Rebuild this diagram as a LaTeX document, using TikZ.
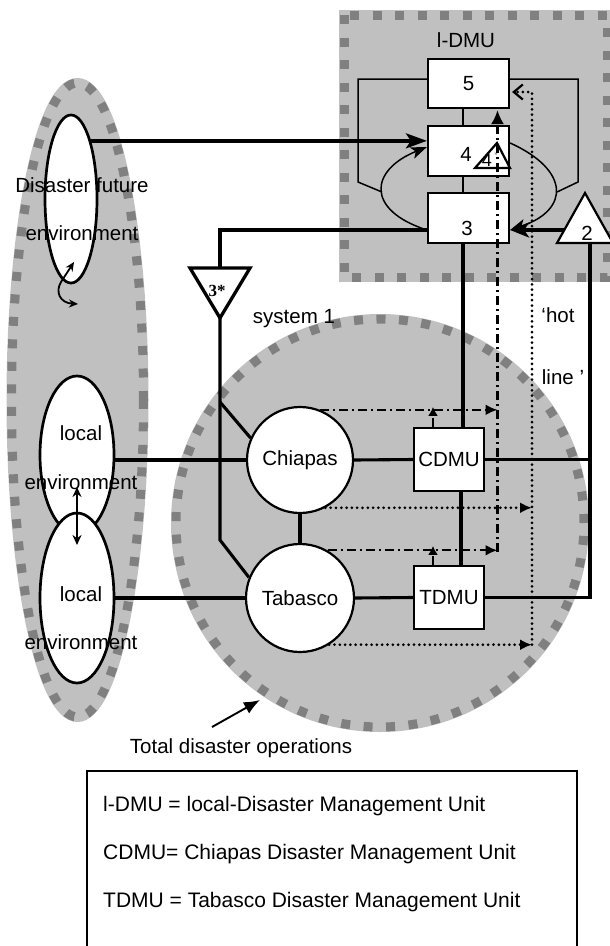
\documentclass[tikz,border=0pt]{standalone}
\usepackage{fontspec}
\setmainfont{Liberation Sans}
\newfontfamily\serifb{Liberation Serif}
\usetikzlibrary{shapes.geometric,arrows.meta,calc}
\definecolor{fillg}{HTML}{C0C0C0}
\definecolor{dashg}{HTML}{808080}
\newcommand\fs{\fontsize{20.5}{24}\selectfont}
\begin{document}
\begin{tikzpicture}[x=1pt,y=-1pt,
 graybg/.style={fill=fillg, draw=fillg, line width=10pt},
 graydash/.style={draw=dashg, line width=9pt, dash pattern=on 9pt off 13.5pt},
 boxn/.style={draw, fill=white, line width=2.2pt, inner sep=0pt, font=\fs},
 circn/.style={circle, draw, fill=white, line width=2.2pt, inner sep=0pt, font=\fs},
 elln/.style={ellipse, draw, fill=white, line width=2.7pt, inner sep=0pt},
 txt/.style={inner sep=0pt, font=\fs},
 thinln/.style={line width=1.5pt},
 medln/.style={line width=3.1pt},
 thickln/.style={line width=3.4pt},
 dashdotln/.style={line width=2.3pt, dash pattern=on 9pt off 4pt on 2pt off 4pt},
 dotln/.style={line width=3pt, line cap=round, dash pattern=on 0pt off 5.3pt},
 tri/.style={draw, fill=white, line width=2.2pt, line join=miter}
]
\useasboundingbox (0,0) rectangle (610,946);

% gray regions
\path[graybg] (77.5,400) ellipse [x radius=66pt, y radius=317pt];
\path[graydash] (77.5,400) ellipse [x radius=66pt, y radius=317pt];
\path[graybg] (380,523) circle [radius=204pt];
\path[graydash] (380,523) circle [radius=204pt];
\path[graybg] (344,15) rectangle (607,277);
\path[graydash] (344,15) rectangle (607,277);

% nodes
\node[boxn, minimum width=81pt, minimum height=49pt] (b5) at (468.5,83.5) {5};
\node[boxn, minimum width=81pt, minimum height=50pt] (b4) at (468.5,151) {};
\node[txt] (b4t) at (466,154) {4};
\node[boxn, minimum width=81pt, minimum height=50pt] (b3) at (468.5,218) {};
\node[txt] (b3t) at (467,228) {3};
\node[boxn, minimum width=70pt, minimum height=63pt] (cdmu) at (449,459.5) {CDMU};
\node[boxn, minimum width=70pt, minimum height=63pt] (tdmu) at (449,597.5) {TDMU};
\node[circn, minimum size=106pt] (chiapas) at (300,460) {Chiapas};
\node[circn, minimum size=108pt] (tabasco) at (300,598) {Tabasco};
\node[elln, minimum width=52pt, minimum height=168pt] (dis) at (71,199) {};
\node[elln, minimum width=74pt, minimum height=158pt] (loc1) at (77,455) {};
\node[elln, minimum width=74pt, minimum height=170pt] (loc2) at (77,598) {};

\node[txt] (dis1) at (82,185) {Disaster future};
\node[txt] (dis2) at (82,233) {environment};
\node[txt] (l1a) at (81,433) {local};
\node[txt] (l1b) at (81,482) {environment};
\node[txt] (l2a) at (81,594) {local};
\node[txt] (l2b) at (81,642) {environment};
\node[txt] (idmu) at (466,40) {l-DMU};
\node[txt] (sys) at (294,319) {system 1};
\node[txt] (hot1) at (558,315) {‘hot};
\node[txt] (hot2) at (563,377) {line ’};
\node[txt] (tdo) at (241,748) {Total disaster operations};

% coordinates
\coordinate (b3L) at ($(b3.west)+(0,12)$);
\coordinate (b3R) at ($(b3.east)+(0,12)$);
\coordinate (b4Lc) at ($(b4.west)+(0,-4)$);
\coordinate (b4R) at ($(b4.east)+(0,-8)$);
\coordinate (b5L) at ($(b5.west)+(0,-4.5)$);
\coordinate (b5R) at ($(b5.east)+(0,-4.5)$);
\coordinate (b5Rd) at ($(b5.east)+(2,8.5)$);
\coordinate (b3S) at ($(b3.south)+(-5.5,0)$);
\coordinate (t3top) at (220,268);
\coordinate (t3bot) at (220,318);
\coordinate (j1) at (220,402);
\coordinate (j2) at (220,540);
\coordinate (t2bot) at (590,243);
\coordinate (t2left) at (564,230);
\coordinate (ddtop) at ($(b5.south)+(29,1)$);
\coordinate (dotx) at (532,92);
\coordinate (cup) at ($(cdmu.north)+(-16,-20)$);
\coordinate (tup) at ($(tdmu.north)+(-16,-19)$);
\coordinate (da1) at (77,487);
\coordinate (da2) at (77,545);
\coordinate (s1) at (74,262);
\coordinate (s2) at (78,304);
\coordinate (arrS) at (212,727);
\coordinate (arrE) at (260,700);

% solid connectors
\draw[thickln, -{Stealth[length=21pt,width=15pt,inset=5pt]}] (dis.71) -- (dis.71 -| b4.west);
\draw[thinln, -{Stealth[length=16pt,width=12pt,inset=4pt]}] (b3L) .. controls (365,210) and (370,170) .. (b4Lc);
\draw[thinln, -{Stealth[length=16pt,width=12pt,inset=4pt]}] (b4R) .. controls (570,170) and (570,210) .. (b3R);
\draw[thinln] (b5L) -| (358,182) -- (382,192);
\draw[thinln] (b5R) -| (578,182) -- (557,192);
\draw[thinln] ($(b5.south)+(-5.5,0)$) -- ($(b4.north)+(-5.5,0)$);
\draw[thinln] ($(b4.south)+(-5.5,0)$) -- ($(b3.north)+(-5.5,0)$);
\draw[thickln] (b3L) -| (t3top);
\draw[medln] (t3bot) -- (j2) -- (tabasco.158);
\draw[medln] (j1) -- (chiapas.156);
\draw[medln] (chiapas.west) -- (chiapas.west -| loc1.east);
\draw[medln] (tabasco.west) -- (tabasco.west -| loc2.east);
\draw[medln] (chiapas.east) -- (cdmu.west);
\draw[medln] (tabasco.east) -- (tdmu.west);
\draw[medln] (chiapas.south) -- (tabasco.north);
\draw[medln] (cdmu.east) -- (cdmu.east -| t2bot);
\draw[thickln] (t2bot) |- (tdmu.east);
\draw[thickln] (b3S) -- (b3S |- cdmu.north);
\draw[medln] ($(cdmu.south)+(12,0)$) -- ($(tdmu.north)+(12,0)$);
\draw[thickln, -{Stealth[length=19pt,width=15pt,inset=5pt]}] (t2left) -- (b3R);
\draw[line width=2.2pt, {Stealth[length=10pt,width=9pt]}-{Stealth[length=10pt,width=9pt]}] (da1) -- (da2);
\draw[line width=1.8pt, {Stealth[length=9pt,width=8pt]}-{Stealth[length=9pt,width=8pt]}] (s1) -- (61,282) .. controls (55,292) and (60,303) .. (s2);

% triangles
\draw[tri, line width=3.3pt] (190,268) -- (250,268) -- (220,318) -- cycle;
\node[inner sep=0pt, font=\serifb\bfseries\fontsize{17}{20}\selectfont] (t3t) at (217,291) {3*};
\draw[tri] (557,243) -- (585,193) -- (613,243) -- cycle;
\node[txt] (t2t) at (587,233) {2};
\draw[tri] (475,168) -- (497,143) -- (510,168) -- cycle;
\node[inner sep=0pt, font=\fontsize{18}{20}\selectfont] (t4t) at (487,160) {4};
\node[inner sep=0pt, text=dashg, font=\fontsize{9}{10}\selectfont] (t4s) at (496,155) {*};

% dash-dot connectors
\draw[dashdotln, -{Latex[length=14pt,width=13pt]}] (ddtop |- 0,552) -- (ddtop);
\draw[dashdotln, -{Latex[length=12pt,width=11pt]}] (chiapas.68) -- (chiapas.68 -| ddtop);
\draw[dashdotln, -{Latex[length=12pt,width=11pt]}] (tabasco.60) -- (tabasco.60 -| ddtop);
\draw[dashdotln, -{Latex[length=9pt,width=10pt]}] ($(cdmu.north)+(-16,0)$) -- (cup);
\draw[dashdotln, -{Latex[length=9pt,width=10pt]}] ($(tdmu.north)+(-16,0)$) -- (tup);

% dotted connectors
\draw[dotln, -{Straight Barb[length=9pt,width=15pt,line width=2.2pt]}] (tabasco.-58 -| dotx) -- (dotx) -- (b5Rd);
\draw[dotln, -{Latex[length=12pt,width=11pt]}] (chiapas.-62) -- (chiapas.-62 -| dotx);
\draw[dotln, -{Latex[length=12pt,width=11pt]}] (tabasco.-58) -- (tabasco.-58 -| dotx);

% total operations arrow
\draw[line width=1.9pt, -{Latex[length=16pt,width=13pt]}] (arrS) -- (arrE);

% legend
\draw[line width=1.4pt] (87,946) -- (87,771) -- (577,771) -- (577,946);
\node[txt, anchor=west, font=\fontsize{21}{24}\selectfont] (lg1) at (103,806) {l-DMU = local-Disaster Management Unit};
\node[txt, anchor=west, font=\fontsize{21}{24}\selectfont] (lg2) at (103,854) {CDMU= Chiapas Disaster Management Unit};
\node[txt, anchor=west, font=\fontsize{21}{24}\selectfont] (lg3) at (103,902) {TDMU = Tabasco Disaster Management Unit};
\end{tikzpicture}
\end{document}
